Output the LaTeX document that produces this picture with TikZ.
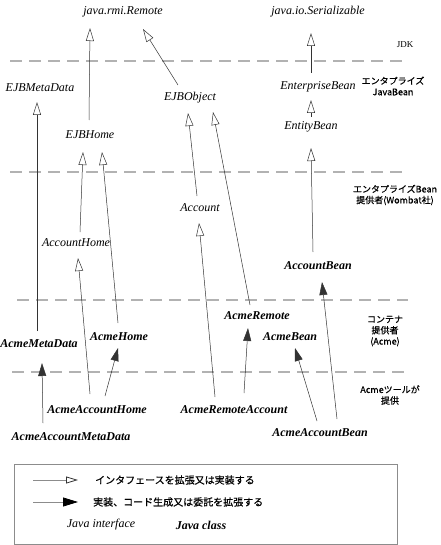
\documentclass[tikz,border=0pt]{standalone}
\usepackage{fontspec}
\setmainfont{Liberation Serif}
\newfontfamily\jp[FakeBold=0.5]{Noto Sans CJK JP}
\usetikzlibrary{arrows.meta}
\begin{document}
\begin{tikzpicture}[x=1pt,y=-1pt,
  iface/.style={font=\itshape\fontsize{12}{12}\selectfont, inner sep=0},
  cls/.style={font=\bfseries\itshape\fontsize{12}{12}\selectfont, inner sep=0},
  layer/.style={font=\jp\fontsize{9}{11}\selectfont, align=center, inner sep=0},
  sep/.style={draw=black!30, line width=1.6pt, dash pattern=on 12pt off 7pt},
  ext/.style={draw=black!80, line width=0.5pt, -{Triangle[open,length=13pt,width=8pt]}},
  impl/.style={draw=black!80, line width=0.5pt, -{Triangle[length=13pt,width=8pt]}},
]
\useasboundingbox (0,0) rectangle (440,545);
% separators
\draw[sep] (10,61) -- (408,61);
\draw[sep] (10,172) -- (408,172);
\draw[sep] (17,300) -- (408,300);
\draw[sep] (12,372) -- (408,372);
% layer labels
\node[font=\fontsize{9}{9}\selectfont, inner sep=0] (ljdk) at (405,45) {JDK};
\node[layer] (lejb) at (393,86) {エンタプライズ\\JavaBean};
\node[layer] (lprov) at (395,195) {エンタプライズBean\\提供者(Wombat社)};
\node[layer] (lcont) at (385,331) {コンテナ\\提供者\\(Acme)};
\node[layer] (ltool) at (390,395) {Acmeツールが\\提供};
% classes
\node[iface] (remote) at (123,12) {java.rmi.Remote};
\node[iface] (serial) at (318,12) {java.io.Serializable};
\node[iface] (ejbmeta) at (40,88) {EJBMetaData};
\node[iface] (ejbobj) at (190,98) {EJBObject};
\node[iface] (entbean) at (318,87) {EnterpriseBean};
\node[iface] (ejbhome) at (90,135) {EJBHome};
\node[iface] (entity) at (311,127) {EntityBean};
\node[iface] (account) at (200,208) {Account};
\node[iface] (accthome) at (76,243) {AccountHome};
\node[cls] (acctbean) at (318,266) {AccountBean};
\node[cls] (acmeremote) at (257,316) {AcmeRemote};
\node[cls] (acmebean) at (290,337) {AcmeBean};
\node[cls] (acmemeta) at (39,344) {AcmeMetaData};
\node[cls] (acmehome) at (119,337) {AcmeHome};
\node[cls] (aah) at (97,410) {AcmeAccountHome};
\node[cls] (aamd) at (71,437) {AcmeAccountMetaData};
\node[cls] (ara) at (234,410) {AcmeRemoteAccount};
\node[cls] (aab) at (320,433) {AcmeAccountBean};
% connector end points
\coordinate (ejbhomeT) at (89,120);   \coordinate (remoteB1) at (90,28);
\coordinate (ejbobjT) at (178,85);    \coordinate (remoteB2) at (143,29);
\coordinate (entbeanT) at (311,73);   \coordinate (serialB) at (311,33);
\coordinate (entityT) at (311,117);   \coordinate (entbeanB) at (311,100);
\coordinate (acmemetaT) at (37,331);  \coordinate (ejbmetaB) at (37,102);
\coordinate (accthomeT) at (80,232);  \coordinate (ejbhomeB1) at (83,152);
\coordinate (acmehomeT) at (118,323); \coordinate (ejbhomeB2) at (102,152);
\coordinate (aahT1) at (90,394);      \coordinate (accthomeB) at (78,258);
\coordinate (aahT2) at (105,396);     \coordinate (acmehomeB) at (118,348);
\coordinate (aamdT) at (43,423);      \coordinate (acmemetaB) at (42,363);
\coordinate (accountT) at (197,196);  \coordinate (ejbobjB1) at (188,113);
\coordinate (acmeremoteT) at (250,305); \coordinate (ejbobjB2) at (213,112);
\coordinate (araT1) at (215,397);     \coordinate (accountB) at (199,223);
\coordinate (araT2) at (244,393);     \coordinate (acmeremoteB) at (248,328);
\coordinate (aabT1) at (317,421);     \coordinate (acmebeanB) at (295,348);
\coordinate (aabT2) at (337,419);     \coordinate (acctbeanB) at (322,282);
\coordinate (acctbeanT) at (313,252); \coordinate (entityB) at (311,148);
% connectors
\draw[ext] (ejbhomeT) -- (remoteB1);
\draw[ext] (ejbobjT) -- (remoteB2);
\draw[ext] (entbeanT) -- (serialB);
\draw[ext] (entityT) -- (entbeanB);
\draw[ext] (acmemetaT) -- (ejbmetaB);
\draw[ext] (accthomeT) -- (ejbhomeB1);
\draw[ext] (acmehomeT) -- (ejbhomeB2);
\draw[ext] (aahT1) -- (accthomeB);
\draw[impl] (aahT2) -- (acmehomeB);
\draw[impl] (aamdT) -- (acmemetaB);
\draw[ext] (accountT) -- (ejbobjB1);
\draw[ext] (acmeremoteT) -- (ejbobjB2);
\draw[ext] (araT1) -- (accountB);
\draw[impl] (araT2) -- (acmeremoteB);
\draw[impl] (aabT1) -- (acmebeanB);
\draw[impl] (aabT2) -- (acctbeanB);
\draw[ext] (acctbeanT) -- (entityB);
% legend
\node[draw=black!45, line width=0.8pt, minimum width=383pt, minimum height=80pt, inner sep=0, anchor=north west] (legend) at (14,464) {};
\coordinate (l1a) at (33,480); \coordinate (l1b) at (78,480);
\coordinate (l2a) at (33,502); \coordinate (l2b) at (78,502);
\draw[draw=black!45, line width=0.8pt, -{Triangle[open,length=12pt,width=7pt,color=black!80]}] (l1a) -- (l1b);
\draw[draw=black!45, line width=0.8pt, -{Triangle[length=15pt,width=9pt,color=black]}] (l2a) -- (l2b);
\node[font=\jp\fontsize{10}{10}\selectfont, inner sep=0, anchor=west] (lt1) at (95,480) {インタフェースを拡張又は実装する};
\node[font=\jp\fontsize{10}{10}\selectfont, inner sep=0, anchor=west] (lt2) at (93,502) {実装、コード生成又は委託を拡張する};
\node[iface] (ljava1) at (101,525) {Java interface};
\node[cls] (ljava2) at (201,525) {Java class};
\end{tikzpicture}
\end{document}
